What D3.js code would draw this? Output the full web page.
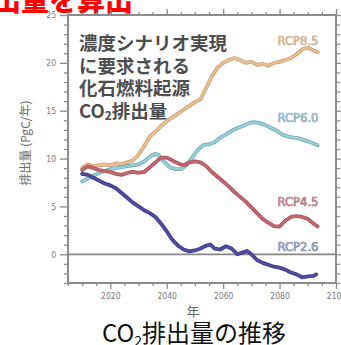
<!DOCTYPE html>
<html><head><meta charset="utf-8">
<script src="https://cdn.jsdelivr.net/npm/d3@7"></script>
<style>html,body{margin:0;padding:0;background:#fff;}svg{display:block;}</style>
</head><body>
<svg id="c" width="341" height="345"></svg>
<script>
// ---- data ----
const seriesNames = ["RCP8.5", "RCP6.0", "RCP4.5", "RCP2.6"];
const years85 = [2010,2012,2014,2016,2018,2020,2022,2024,2026,2028,2030,2032,2034,2036,2038,2040,2042,2044,2046,2048,2050,2052,2054,2056,2058,2060,2062,2064,2066,2068,2070,2072,2074,2076,2078,2080,2082,2084,2086,2088,2090,2092,2093.5];
const rcp85  = [9.0,9.4,9.2,9.3,9.4,9.3,9.5,9.4,9.6,9.8,10.4,11.3,12.3,12.8,13.4,13.9,14.3,14.7,15.1,15.5,15.9,16.2,17.4,18.6,19.5,20.0,20.3,20.5,20.3,20.0,20.1,19.8,19.9,19.7,20.0,20.1,20.3,20.5,20.9,21.4,21.6,21.3,21.1];
const years60 = [2010,2012,2014,2016,2018,2020,2022,2024,2026,2028,2030,2032,2034,2036,2037,2039,2041,2043,2045,2047,2049,2051,2053,2055,2057,2059,2061,2063,2065,2067,2069,2071,2073,2075,2077,2079,2081,2083,2085,2087,2089,2091,2093.5];
const rcp60  = [7.6,7.9,8.2,8.5,8.7,8.9,9.0,9.1,9.2,9.3,9.4,9.7,10.2,10.5,10.4,9.7,9.1,8.9,8.9,9.3,10.1,10.9,11.4,11.5,11.7,12.2,12.5,12.9,13.2,13.4,13.7,13.8,13.7,13.5,13.2,12.9,12.5,12.3,12.2,12.1,11.9,11.7,11.4];
const years45 = [2010,2012,2014,2016,2018,2020,2022,2024,2026,2028,2030,2032,2034,2036,2038,2040,2042,2044,2046,2048,2050,2052,2054,2056,2058,2060,2062,2064,2066,2068,2070,2072,2074,2076,2078,2080,2082,2084,2086,2088,2090,2092,2093.5];
const rcp45  = [8.8,9.2,9.0,8.8,8.7,8.6,8.4,8.3,8.5,8.6,8.5,8.6,9.1,9.6,10.1,10.1,9.8,9.5,9.3,9.6,9.7,9.6,9.2,8.6,8.1,7.6,7.1,6.5,6.0,5.5,4.9,4.3,3.7,3.3,2.95,2.9,3.5,3.9,4.0,3.9,3.7,3.2,2.9];
const years26 = [2010,2012,2014,2016,2018,2020,2022,2024,2026,2028,2030,2032,2034,2036,2038,2040,2042,2044,2046,2048,2050,2052,2054,2055.5,2057,2059,2061,2063,2065,2067,2068.5,2070,2072,2074,2076,2078,2080,2082,2084,2086,2088,2090,2092,2093];
const rcp26  = [8.4,8.3,8.0,7.7,7.4,7.2,6.9,6.4,5.9,5.4,5.0,4.6,4.3,3.9,3.2,2.4,1.5,0.9,0.5,0.3,0.4,0.6,0.9,1.0,0.6,0.5,0.85,0.6,0.0,0.2,0.35,0.0,-0.6,-0.9,-1.1,-1.3,-1.4,-1.6,-1.9,-2.1,-2.4,-2.3,-2.25,-2.1];
const yTickValues = [0,5,10,15,20,25];
const xTickValues = [2020,2040,2060,2080,2100];
const annotationLines = ["濃度シナリオ実現","に要求される","化石燃料起源"];
const titleText = "排出量を算出";
const yLabel = "排出量 (PgC/年)";
const xLabel = "年";

const svg = d3.select("#c");
const x = d3.scaleLinear().domain([2005, 2100]).range([68, 336]);
const y = d3.scaleLinear().domain([-3, 25]).range([283, 15]);
const jp = "'Noto Sans CJK JP', 'Noto Sans', sans-serif";
const axisCol = "#8c8c8c";

// title (cut off at top)
svg.append("text").attr("x", -35).attr("y", 11)
  .attr("font-family", jp).attr("font-weight", 900).attr("font-size", 28)
  .attr("fill", "#ff0000").text(titleText);

// axes: ticks
function styleAxis(g){
  g.select(".domain").remove();
  g.selectAll("line").attr("stroke", axisCol).attr("stroke-width", 1.3);
  g.selectAll("text").attr("fill", "#7a7a7a").attr("font-family", "'Liberation Sans Narrow', 'DejaVu Sans Condensed', sans-serif").attr("font-size", 8.5);
}
const minorY = d3.range(-3, 26, 1).filter(v => v % 5 !== 0);
const minorX = d3.range(2005, 2101, 5).filter(v => v % 20 !== 0);

svg.append("g").attr("transform", `translate(${x.range()[0]},0)`)
  .call(d3.axisLeft(y).tickValues(yTickValues).tickSize(8).tickPadding(4)).call(styleAxis);
svg.append("g").attr("transform", `translate(${x.range()[0]},0)`)
  .call(d3.axisLeft(y).tickValues(minorY).tickSize(4).tickFormat("")).call(styleAxis);
svg.append("g").attr("transform", `translate(${x.range()[1]},0)`)
  .call(d3.axisRight(y).tickValues(yTickValues).tickSize(6).tickFormat("")).call(styleAxis);
svg.append("g").attr("transform", `translate(${x.range()[1]},0)`)
  .call(d3.axisRight(y).tickValues(minorY).tickSize(4).tickFormat("")).call(styleAxis);
svg.append("g").attr("transform", `translate(0,${y.range()[0]})`)
  .call(d3.axisBottom(x).tickValues(xTickValues).tickSize(6).tickPadding(4).tickFormat(d3.format("d"))).call(styleAxis);
svg.append("g").attr("transform", `translate(0,${y.range()[0]})`)
  .call(d3.axisBottom(x).tickValues(minorX).tickSize(3).tickFormat("")).call(styleAxis);
svg.append("g").attr("transform", `translate(0,${y.range()[1]})`)
  .call(d3.axisTop(x).tickValues(xTickValues).tickSize(6).tickFormat("")).call(styleAxis);
svg.append("g").attr("transform", `translate(0,${y.range()[1]})`)
  .call(d3.axisTop(x).tickValues(minorX).tickSize(3).tickFormat("")).call(styleAxis);

// frame
svg.append("rect").attr("x", x.range()[0]).attr("y", y.range()[1])
  .attr("width", x.range()[1] - x.range()[0]).attr("height", y.range()[0] - y.range()[1])
  .attr("fill", "none").attr("stroke", axisCol).attr("stroke-width", 2);

// zero line
svg.append("line").attr("x1", x.range()[0]).attr("x2", x.range()[1])
  .attr("y1", y(0)).attr("y2", y(0)).attr("stroke", "#888").attr("stroke-width", 1.8);

// y label
svg.append("text").attr("transform", `translate(30,143) rotate(-90)`)
  .attr("text-anchor", "middle").attr("font-family", jp).attr("font-size", 12)
  .attr("fill", "#6a6a6a").text(yLabel);
// x label
svg.append("text").attr("x", 193).attr("y", 316).attr("text-anchor", "middle")
  .attr("font-family", jp).attr("font-size", 13).attr("fill", "#6a6a6a").text(xLabel);

// annotation
const ann = svg.append("g").attr("font-family", jp).attr("font-weight", 700)
  .attr("font-size", 18.5).attr("fill", "#4d4d4d");
annotationLines.forEach((t, i) => {
  ann.append("text").attr("x", 79).attr("y", 50 + i * 22.5).text(t);
});
const l4 = ann.append("text").attr("x", 79).attr("y", 50 + 3 * 22.5);
l4.append("tspan").text("CO");
l4.append("tspan").attr("font-size", 12).attr("dy", 2).text("2");
l4.append("tspan").attr("dy", -2).text("排出量");

// lines
const series = [
  {name: seriesNames[0], years: years85, vals: rcp85, col: "#eec08f", edge: "#c8a27e", lab: [298, 41]},
  {name: seriesNames[1], years: years60, vals: rcp60, col: "#93d3df", edge: "#7fa7b5", lab: [298, 118]},
  {name: seriesNames[2], years: years45, vals: rcp45, col: "#c4666d", edge: "#a8575f", lab: [298, 202]},
  {name: seriesNames[3], years: years26, vals: rcp26, col: "#4f4ea3", edge: "#3c3b86", lab: [298, 247]}
];
const line = d3.line().x(d => x(d[0])).y(d => y(d[1]));
series.forEach(s => {
  const pts = s.years.map((yr, i) => [yr, s.vals[i]]);
  svg.append("path").attr("d", line(pts)).attr("fill", "none")
    .attr("stroke", s.edge).attr("stroke-width", 3.8).attr("stroke-linejoin", "round").attr("stroke-linecap", "round");
  svg.append("path").attr("d", line(pts)).attr("fill", "none")
    .attr("stroke", s.col).attr("stroke-width", 2).attr("stroke-linejoin", "round").attr("stroke-linecap", "round");
});
const labCols = {"RCP8.5": ["#f6e3cc", "#c9a27a"], "RCP6.0": ["#d0e8ee", "#7ea3b3"], "RCP4.5": ["#ecc4c6", "#b36670"], "RCP2.6": ["#c8d0e2", "#7484a8"]};
series.forEach(s => {
  svg.append("text").attr("x", s.lab[0]).attr("y", s.lab[1] + 4).attr("text-anchor", "middle")
    .attr("font-family", "'Liberation Sans Narrow', 'DejaVu Sans Condensed', sans-serif")
    .attr("font-size", 11.5).attr("textLength", 41).attr("lengthAdjust", "spacingAndGlyphs")
    .attr("fill", labCols[s.name][0]).attr("stroke", labCols[s.name][1]).attr("stroke-width", 0.6)
    .text(s.name);
});

// caption
const cap = svg.append("text").attr("x", 194).attr("y", 342).attr("text-anchor", "middle")
  .attr("font-family", jp).attr("font-size", 24).attr("fill", "#111");
cap.append("tspan").text("CO");
cap.append("tspan").attr("font-size", 14).attr("dy", 4).text("2");
cap.append("tspan").attr("dy", -4).text("排出量の推移");
</script>
</body></html>
